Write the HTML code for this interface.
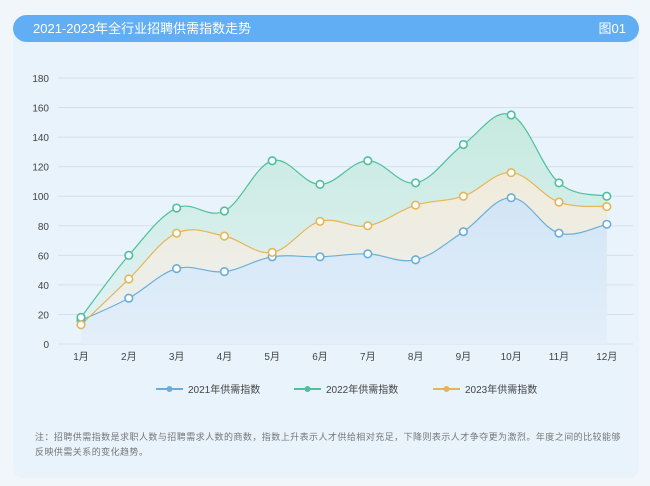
<!DOCTYPE html>
<html><head><meta charset="utf-8"><style>
body{margin:0;width:650px;height:486px;background:#f1f6fb;font-family:"Liberation Sans","Noto Sans CJK SC",sans-serif;overflow:hidden;position:relative}
.panel{position:absolute;left:13px;top:26px;width:626px;height:452px;background:#e8f3fc;border-radius:10px}
.hdr{position:absolute;left:13px;top:15px;width:626px;height:27px;background:#62aef5;border-radius:14px;color:#fff;font-size:13px;line-height:27px}
.hdr .t{position:absolute;left:20px}.hdr .r{position:absolute;right:13px}
.note{position:absolute;left:35px;top:430px;width:600px;font-size:9px;letter-spacing:0.45px;color:#777;line-height:15px;white-space:nowrap}
</style></head><body>
<div class="panel"></div>
<div class="hdr"><span class="t">2021-2023年全行业招聘供需指数走势</span><span class="r">图01</span></div>
<svg id="s" width="650" height="486" style="position:absolute;left:0;top:0">
<defs>
<linearGradient id="gg" x1="0" y1="0" x2="0" y2="1"><stop offset="0" stop-color="#c6eadf"/><stop offset="1" stop-color="#e4f2f6"/></linearGradient>
<linearGradient id="go" x1="0" y1="0" x2="0" y2="1"><stop offset="0" stop-color="#f1ebdb"/><stop offset="1" stop-color="#eaf0f1"/></linearGradient>
<linearGradient id="gb" x1="0" y1="0" x2="0" y2="1"><stop offset="0" stop-color="#d2e5f6"/><stop offset="1" stop-color="#e3effa"/></linearGradient>
</defs>
</svg>
<div class="note">注：招聘供需指数是求职人数与招聘需求人数的商数，指数上升表示人才供给相对充足，下降则表示人才争夺更为激烈。年度之间的比较能够<br>反映供需关系的变化趋势。</div>
<script>
const s=document.getElementById('s');const NS='http://www.w3.org/2000/svg';
function el(t,a,txt){const e=document.createElementNS(NS,t);for(const k in a)e.setAttribute(k,a[k]);if(txt!==undefined)e.textContent=txt;s.appendChild(e);return e;}
const Y=v=>344-v*(266/180), X=i=>81+i*47.8;
for(let v=0;v<=180;v+=20){el('line',{x1:58,x2:633,y1:Y(v),y2:Y(v),stroke:'#d3e0ea','stroke-width':1});el('text',{x:49,y:Y(v)+4,'text-anchor':'end','font-size':10,fill:'#444'},String(v));}
for(let i=0;i<12;i++)el('text',{x:X(i),y:360,'text-anchor':'middle','font-size':10,fill:'#444'},(i+1)+'月');
const d21=[16,31,51,49,59,59,61,57,76,99,75,81],d22=[18,60,92,90,124,108,124,109,135,155,109,100],d23=[13,44,75,73,62,83,80,94,100,116,96,93];
function path(d){const p=d.map((v,i)=>[X(i),Y(v)]);let s='M'+p[0];for(let i=0;i<p.length-1;i++){const p0=p[Math.max(0,i-1)],p1=p[i],p2=p[i+1],p3=p[Math.min(p.length-1,i+2)];const t=0.18;
const c1=[p1[0]+(p2[0]-p0[0])*t,p1[1]+(p2[1]-p0[1])*t],c2=[p2[0]-(p3[0]-p1[0])*t,p2[1]-(p3[1]-p1[1])*t];s+=`C${c1} ${c2} ${p2}`;}return s;}
const base=`L${X(11)},344L${X(0)},344Z`;
el('path',{d:path(d22)+base,fill:'url(#gg)'});
el('path',{d:path(d23)+base,fill:'url(#go)'});
el('path',{d:path(d21)+base,fill:'url(#gb)'});
const ser=[[d21,'#6aaed8'],[d22,'#4fbf9c'],[d23,'#e6b556']];
ser.forEach(([d,c])=>el('path',{d:path(d),fill:'none',stroke:c,'stroke-width':1.2}));
ser.forEach(([d,c])=>d.forEach((v,i)=>el('circle',{cx:X(i),cy:Y(v),r:3.8,fill:'#fff',stroke:c,'stroke-width':1.6})));
[['2021年供需指数','#6aaed8',156],['2022年供需指数','#4fbf9c',294],['2023年供需指数','#e6b556',433]].forEach(([t,c,x])=>{
el('line',{x1:x,x2:x+27,y1:389,y2:389,stroke:c,'stroke-width':2});el('circle',{cx:x+13.5,cy:389,r:3,fill:c});
el('text',{x:x+32,y:393,'font-size':10,fill:'#444'},t);});
</script>
</body></html>
